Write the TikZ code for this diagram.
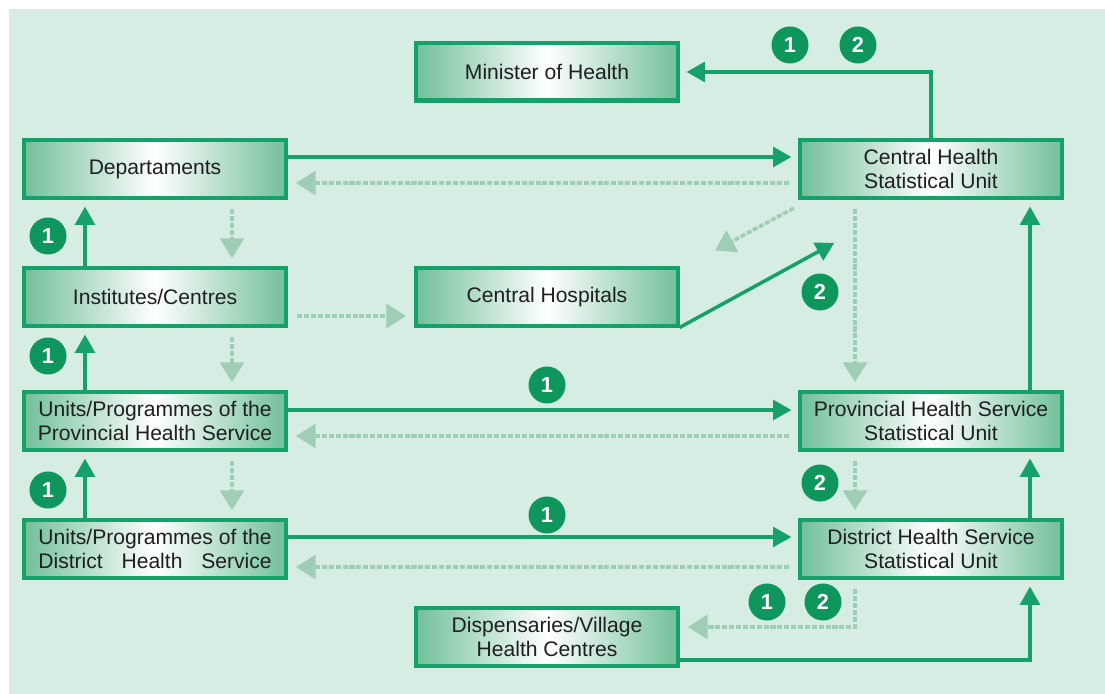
\documentclass[tikz,border=0pt]{standalone}
\usepackage{fontspec}
\setmainfont{Liberation Sans}
\usepackage{calc}
\usetikzlibrary{arrows.meta,positioning,calc}

\definecolor{panel}{RGB}{214,237,227}
\definecolor{rimgreen}{RGB}{22,160,106}
\definecolor{shadegreen}{RGB}{114,192,154}
\definecolor{palegreen}{RGB}{160,205,181}
\definecolor{badgegreen}{RGB}{14,150,92}

% stretch a line to the width of another one
\newcommand{\spreadline}[2]{\makebox[\widthof{#1}][s]{#2}}

\begin{document}
\begin{tikzpicture}[
  x=0.025cm, y=-0.025cm,
  box/.style={draw=rimgreen, line width=2.85pt, left color=shadegreen, right color=shadegreen, middle color=white, minimum width=6.525cm, minimum height=1.425cm, inner sep=0pt, align=center, text=black!88, font=\fontsize{15}{17.7}\selectfont},
  arr/.style={-{Triangle[length=13pt,width=14pt]}, line width=2.5pt, draw=rimgreen, shorten >=5pt},
  back/.style={-{Triangle[length=14pt,width=17pt]}, line width=2.6pt, draw=palegreen, dash pattern=on 3.6pt off 1.3pt, shorten <=7pt, shorten >=6pt},
  badge/.style={circle, fill=badgegreen, text=white, minimum size=0.925cm, inner sep=0pt, font=\fontsize{15.5}{15.5}\selectfont\bfseries}
]
  \fill[white] (0,0) rectangle (1105,694);
  \useasboundingbox (0,0) rectangle (1105,694);
  \fill[panel] (9,9) rectangle (1105,694);

  % boxes
  \node[box] (mini) at (547,72) {Minister of Health};
  \node[box] (dept) at (155,169) {Departaments};
  \node[box] (chsu) at (931,169) {Central Health\\Statistical Unit};
  \node[box] (inst) at (155,297) {Institutes/Centres};
  \node[box] (hosp) at (547,297) {Central Hospitals};
  \node[box] (uprov) at (155,421) {Units/Programmes of the\\Provincial Health Service};
  \node[box] (pstat) at (931,421) {Provincial Health Service\\Statistical Unit};
  \node[box] (udist) at (155,549) {Units/Programmes of the\\\spreadline{Units/Programmes of the}{District Health Service}};
  \node[box] (dstat) at (931,549) {District Health Service\\Statistical Unit};
  \node[box] (disp) at (547,637) {Dispensaries/Village\\Health Centres};

  % reporting upwards
  \draw[arr] ($(dept.east)+(0,-12)$) -- ($(chsu.west)+(0,-12)$);
  \draw[arr] (chsu.north) |- (mini.east);
  \draw[arr] ($(inst.north)+(-70,0)$) -- ($(dept.south)+(-70,0)$);
  \draw[arr] ($(uprov.north)+(-70,0)$) -- ($(inst.south)+(-70,0)$);
  \draw[arr] ($(udist.north)+(-70,0)$) -- ($(uprov.south)+(-70,0)$);
  \draw[arr] ($(uprov.east)+(0,-11)$) -- ($(pstat.west)+(0,-11)$);
  \draw[arr] ($(udist.east)+(0,-12)$) -- ($(dstat.west)+(0,-12)$);
  \draw[arr] (hosp.south east) -- ($(chsu.south west)+(42,40)$);
  \draw[arr] ($(pstat.north)+(99,0)$) -- ($(chsu.south)+(99,0)$);
  \draw[arr] ($(dstat.north)+(99,0)$) -- ($(pstat.south)+(99,0)$);
  \draw[arr] ($(disp.east)+(0,23)$) -| ($(dstat.south)+(99,0)$);

  % feedback downwards
  \draw[back] ($(chsu.west)+(0,14)$) -- ($(dept.east)+(0,14)$);
  \draw[back] ($(chsu.south west)+(4,4)$) -- ($(hosp.north east)+(28,-12)$);
  \draw[back] ($(chsu.south)+(-76,0)$) -- ($(pstat.north)+(-76,0)$);
  \draw[back] ($(dept.south)+(77,0)$) -- ($(inst.north)+(77,0)$);
  \draw[back] ($(inst.east)+(0,19)$) -- ($(hosp.west)+(0,19)$);
  \draw[back] ($(inst.south)+(77,0)$) -- ($(uprov.north)+(77,0)$);
  \draw[back] ($(pstat.west)+(0,15)$) -- ($(uprov.east)+(0,15)$);
  \draw[back] ($(uprov.south)+(77,0)$) -- ($(udist.north)+(77,0)$);
  \draw[back] ($(pstat.south)+(-76,0)$) -- ($(dstat.north)+(-76,0)$);
  \draw[back] ($(dstat.west)+(0,18)$) -- ($(udist.east)+(0,18)$);
  \draw[back] ($(dstat.south)+(-76,0)$) |- ($(disp.east)+(0,-10)$);

  % numbered markers
  \node[badge] (m1) at (790,45) {1};
  \node[badge] (m2) at (858,45) {2};
  \node[badge] (d1) at (48,236) {1};
  \node[badge] (i1) at (48,356) {1};
  \node[badge] (p1) at (48,490) {1};
  \node[badge] (h1) at (547,385) {1};
  \node[badge] (h2) at (547,515) {1};
  \node[badge] (c2) at (820,292) {2};
  \node[badge] (s2) at (820,483) {2};
  \node[badge] (v1) at (767,602) {1};
  \node[badge] (v2) at (823,602) {2};
\end{tikzpicture}
\end{document}
